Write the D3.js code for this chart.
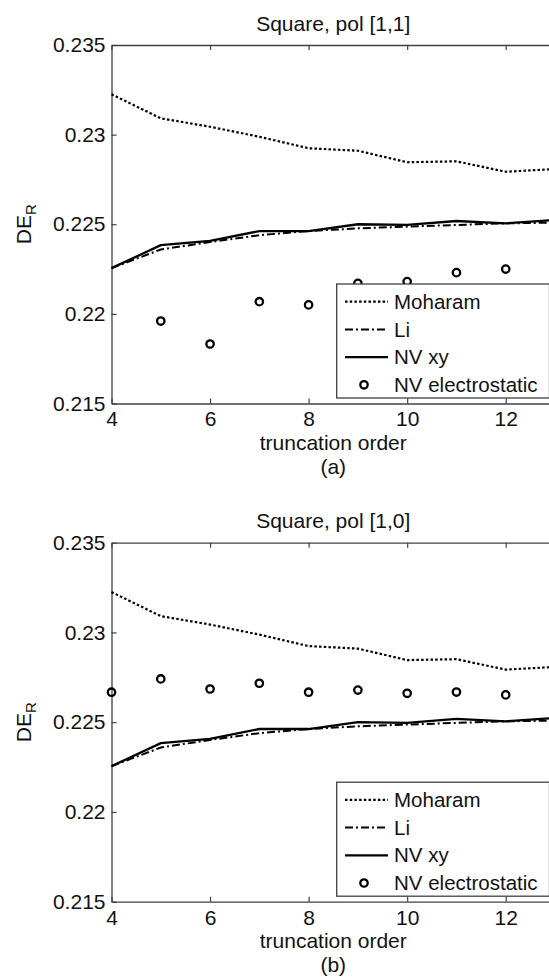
<!DOCTYPE html>
<html>
<head>
<meta charset="utf-8">
<script src="https://cdn.jsdelivr.net/npm/d3@7"></script>
<style>
body { margin: 0; background: #fff; }
svg { display: block; }
text { font-family: "Liberation Sans", Arial, sans-serif; fill: #111; }
</style>
</head>
<body>
<div id="chart"></div>
<script>
// truncation orders on the x axis
var orders = [4, 5, 6, 7, 8, 9, 10, 11, 12, 13];
var xTicks = [4, 6, 8, 10, 12];
var yTicks = [0.215, 0.22, 0.225, 0.23, 0.235];

// curves (same in both panels)
var moharam = [0.23225, 0.23091, 0.23044, 0.22988, 0.22924, 0.22910, 0.22846, 0.22851, 0.22793, 0.22808];
var li      = [0.22255, 0.22359, 0.22401, 0.22439, 0.22462, 0.22477, 0.22487, 0.22496, 0.22505, 0.22509];
var nvXY    = [0.22255, 0.22383, 0.22407, 0.22462, 0.22462, 0.22500, 0.22496, 0.22518, 0.22505, 0.22524];

// NV electrostatic points
var electroA = [null, 0.21960, 0.21832, 0.22068, 0.22050, 0.22170, 0.22180, 0.22230, 0.22250, 0.22272];
var electroB = [0.22667, 0.22741, 0.22685, 0.22717, 0.22667, 0.22679, 0.22661, 0.22668, 0.22652, 0.22662];

var legendNames = ["Moharam", "Li", "NV xy", "NV electrostatic"];

var svg = d3.select("#chart").append("svg")
            .attr("width", 549)
            .attr("height", 978);

var left = 111.5, right = 555;
var x = d3.scaleLinear().domain([4, 13]).range([left, right]);

var axisColor = "#404040";
var dotted = "2.5,2.2";
var dashDot = "8,3,2,3";

function styleAxis(a) {
  a.select(".domain").attr("stroke", axisColor).attr("stroke-width", 1.3);
  a.selectAll(".tick line").attr("stroke", axisColor).attr("stroke-width", 1.2);
  a.selectAll(".tick text").attr("font-size", "21px").attr("fill", "#111")
   .attr("font-family", "Liberation Sans, Arial, sans-serif");
}

function drawPanel(top, bottom, title, tag, electro) {

  var y = d3.scaleLinear().domain([0.215, 0.235]).range([bottom, top]);
  var g = svg.append("g");

  var line = d3.line()
               .defined(function (d) { return d != null; })
               .x(function (d, i) { return x(orders[i]); })
               .y(function (d) { return y(d); });

  // axes, ticks pointing inward
  var xa = g.append("g").attr("transform", "translate(0," + bottom + ")")
            .call(d3.axisBottom(x).tickValues(xTicks).tickSizeInner(-5).tickSizeOuter(0).tickPadding(8));
  styleAxis(xa);

  var xt = g.append("g").attr("transform", "translate(0," + top + ")")
            .call(d3.axisTop(x).tickValues(xTicks).tickSizeInner(-5).tickSizeOuter(0).tickFormat(""));
  styleAxis(xt);

  var ya = g.append("g").attr("transform", "translate(" + left + ",0)")
            .call(d3.axisLeft(y).tickValues(yTicks).tickSizeInner(-5).tickSizeOuter(0).tickPadding(6)
                    .tickFormat(function (d) { return String(+d.toFixed(3)); }));
  styleAxis(ya);

  var yr = g.append("g").attr("transform", "translate(" + right + ",0)")
            .call(d3.axisRight(y).tickValues(yTicks).tickSizeInner(-5).tickSizeOuter(0).tickFormat(""));
  styleAxis(yr);

  // series
  g.append("path").datum(moharam).attr("d", line)
   .attr("fill", "none").attr("stroke", "#000").attr("stroke-width", 2.2)
   .attr("stroke-dasharray", dotted);

  g.append("path").datum(li).attr("d", line)
   .attr("fill", "none").attr("stroke", "#000").attr("stroke-width", 2)
   .attr("stroke-dasharray", dashDot);

  g.append("path").datum(nvXY).attr("d", line)
   .attr("fill", "none").attr("stroke", "#000").attr("stroke-width", 2.3);

  g.selectAll("circle.pt")
   .data(electro.map(function (v, i) { return {o: orders[i], v: v}; })
                .filter(function (d) { return d.v != null; }))
   .enter().append("circle")
   .attr("class", "pt")
   .attr("cx", function (d) { return x(d.o); })
   .attr("cy", function (d) { return y(d.v); })
   .attr("r", 3.7)
   .attr("fill", "none")
   .attr("stroke", "#000")
   .attr("stroke-width", 2.3);

  // legend
  var lg = g.append("g");
  lg.append("rect")
    .attr("x", 336.7).attr("y", bottom - 119.5)
    .attr("width", 212.8).attr("height", 114)
    .attr("fill", "#fff").attr("stroke", axisColor).attr("stroke-width", 1.3);

  legendNames.forEach(function (name, i) {
    var cy = bottom - 101.8 + i * 27.7;
    if (i < 3) {
      var l = lg.append("line")
                .attr("x1", 345).attr("x2", 388)
                .attr("y1", cy).attr("y2", cy)
                .attr("stroke", "#000").attr("stroke-width", i == 0 ? 2.2 : (i == 1 ? 2 : 2.3));
      if (i == 0) l.attr("stroke-dasharray", dotted);
      if (i == 1) l.attr("stroke-dasharray", dashDot);
    } else {
      lg.append("circle").attr("cx", 364).attr("cy", cy).attr("r", 3.7)
        .attr("fill", "none").attr("stroke", "#000").attr("stroke-width", 2.3);
    }
    lg.append("text").attr("x", 394).attr("y", cy).attr("dy", "0.35em")
      .attr("font-size", "20.5px").text(name);
  });

  // titles and labels
  g.append("text").attr("x", (left + right) / 2).attr("y", top - 14.5)
   .attr("text-anchor", "middle").attr("font-size", "21px").text(title);

  g.append("text").attr("x", (left + right) / 2).attr("y", bottom + 46)
   .attr("text-anchor", "middle").attr("font-size", "21px").text("truncation order");

  g.append("text").attr("x", (left + right) / 2).attr("y", bottom + 70.5)
   .attr("text-anchor", "middle").attr("font-size", "21px").text(tag);

  var yl = g.append("text")
            .attr("transform", "translate(31," + ((top + bottom) / 2) + ") rotate(-90)")
            .attr("text-anchor", "middle").attr("font-size", "21px");
  yl.append("tspan").text("DE");
  yl.append("tspan").attr("dy", 5).attr("font-size", "15px").text("R");
}

drawPanel(45, 403.5, "Square, pol [1,1]", "(a)", electroA);
drawPanel(542.7, 901.7, "Square, pol [1,0]", "(b)", electroB);
</script>
</body>
</html>
